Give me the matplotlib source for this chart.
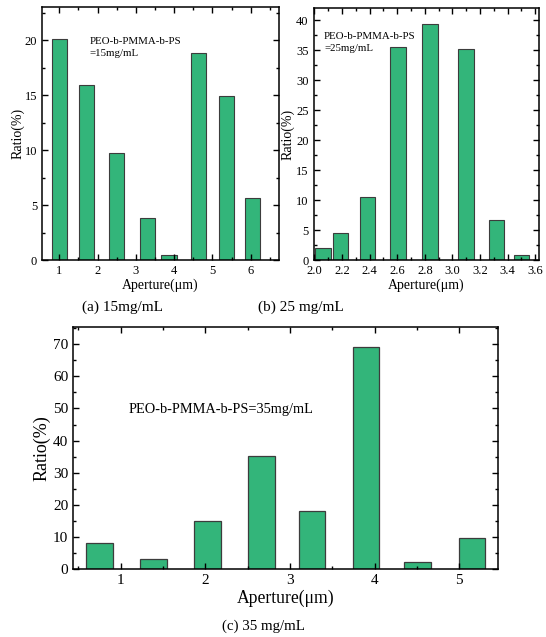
import matplotlib
matplotlib.use("Agg")
import matplotlib.pyplot as plt
from matplotlib.ticker import MultipleLocator

plt.rcParams['font.family'] = ['Liberation Serif', 'DejaVu Serif']
plt.rcParams['mathtext.fontset'] = 'stix'

# (a) 15 mg/mL
x_a = [1.0, 1.71, 2.49, 3.31, 3.87, 4.63, 5.37, 6.04]
ratio_a = [20.1, 15.9, 9.7, 3.85, 0.45, 18.8, 14.9, 5.6]

# (b) 25 mg/mL
x_b = [2.062, 2.19, 2.384, 2.606, 2.836, 3.097, 3.32, 3.50]
ratio_b = [2.0, 4.5, 10.5, 35.6, 39.4, 35.2, 6.6, 0.9]

# (c) 35 mg/mL
x_c = [0.752, 1.39, 2.025, 2.665, 3.26, 3.9, 4.51, 5.15]
ratio_c = [8.2, 3.2, 14.8, 35.1, 18.0, 69.3, 2.2, 9.8]

GREEN = '#33b57a'
EDGE = '#3c3c3c'

fig = plt.figure(figsize=(5.46, 6.37), dpi=100)


def style_axes(ax, fs):
    for s in ax.spines.values():
        s.set_linewidth(1.1)
    ax.tick_params(which='both', direction='in', top=True, right=True,
                   labelsize=fs, width=1.0)
    ax.tick_params(which='major', length=4)
    ax.tick_params(which='minor', length=2)


ax1 = fig.add_axes([0.0769, 0.5918, 0.4335, 0.3972])
ax1.bar(x_a, ratio_a, width=0.40, color=GREEN, edgecolor=EDGE, linewidth=0.8)
ax1.set_xlim(0.55, 6.73)
ax1.set_ylim(0, 23)
ax1.xaxis.set_major_locator(MultipleLocator(1))
ax1.xaxis.set_minor_locator(MultipleLocator(0.5))
ax1.yaxis.set_major_locator(MultipleLocator(5))
ax1.yaxis.set_minor_locator(MultipleLocator(2.5))
style_axes(ax1, 9)
ax1.set_xlabel('Aperture(μm)', fontsize=10, labelpad=1)
ax1.set_ylabel('Ratio(%)', fontsize=10, labelpad=0)
ax1.text(0.2, 0.84, 'PEO-b-PMMA-b-PS\n=15mg/mL', transform=ax1.transAxes,
         fontsize=7.8, va='center', ha='left', linespacing=1.35)

ax2 = fig.add_axes([0.5742, 0.5918, 0.4125, 0.3951])
ax2.bar(x_b, ratio_b, width=0.113, color=GREEN, edgecolor=EDGE, linewidth=0.8)
ax2.set_xlim(1.993, 3.625)
ax2.set_ylim(0, 42)
ax2.xaxis.set_major_locator(MultipleLocator(0.2))
ax2.xaxis.set_minor_locator(MultipleLocator(0.1))
ax2.yaxis.set_major_locator(MultipleLocator(5))
ax2.yaxis.set_minor_locator(MultipleLocator(2.5))
ax2.xaxis.set_major_formatter(lambda v, p: f'{v:.1f}')
style_axes(ax2, 9)
ax2.set_xlabel('Aperture(μm)', fontsize=10, labelpad=1)
ax2.set_ylabel('Ratio(%)', fontsize=10, labelpad=1)
ax2.text(0.047, 0.864, 'PEO-b-PMMA-b-PS\n=25mg/mL', transform=ax2.transAxes,
         fontsize=7.8, va='center', ha='left', linespacing=1.35)

ax3 = fig.add_axes([0.1342, 0.1068, 0.7778, 0.3794])
ax3.bar(x_c, ratio_c, width=0.315, color=GREEN, edgecolor=EDGE, linewidth=0.9)
ax3.set_xlim(0.44, 5.457)
ax3.set_ylim(0, 75.3)
ax3.xaxis.set_major_locator(MultipleLocator(1))
ax3.xaxis.set_minor_locator(MultipleLocator(0.5))
ax3.yaxis.set_major_locator(MultipleLocator(10))
ax3.yaxis.set_minor_locator(MultipleLocator(5))
style_axes(ax3, 11)
ax3.set_xlabel('Aperture(μm)', fontsize=12.7, labelpad=2)
ax3.set_ylabel('Ratio(%)', fontsize=13, labelpad=2)
ax3.text(0.13, 0.66, 'PEO-b-PMMA-b-PS=35mg/mL', transform=ax3.transAxes,
         fontsize=10.4, va='center', ha='left')

fig.text(123 / 546, 1 - 307 / 637, '(a) 15mg/mL', fontsize=11, ha='center', va='center')
fig.text(301 / 546, 1 - 307 / 637, '(b) 25 mg/mL', fontsize=11, ha='center', va='center')
fig.text(264 / 546, 1 - 626 / 637, '(c) 35 mg/mL', fontsize=10.8, ha='center', va='center')

fig.savefig('out.png', dpi=100)
